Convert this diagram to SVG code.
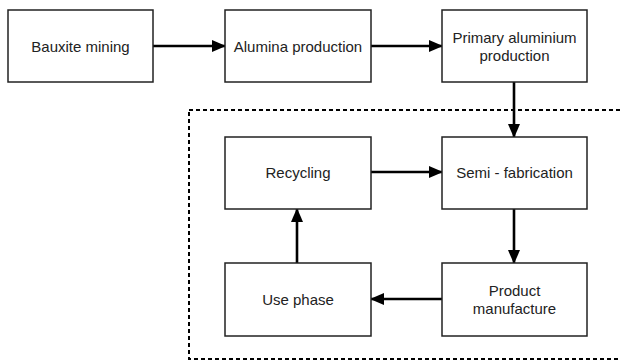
<svg xmlns="http://www.w3.org/2000/svg" width="621" height="364" viewBox="0 0 621 364">
<style>
.box{fill:#fff;stroke:#222;stroke-width:1.5}
.t{font-family:"Liberation Sans",Arial,sans-serif;font-size:15px;fill:#222;text-anchor:middle;dominant-baseline:central}
.c{stroke:#000;stroke-width:2.6;fill:none;marker-end:url(#ah)}
</style>
<defs>
<marker id="ah" markerUnits="userSpaceOnUse" markerWidth="14" markerHeight="12" refX="13" refY="6" orient="auto">
<path d="M0,0 L14,6 L0,12 Z" fill="#000"/>
</marker>
</defs>
<rect width="621" height="364" fill="#fff"/>
<rect x="189" y="110" width="440" height="249" fill="none" stroke="#000" stroke-width="2" stroke-dasharray="4,3"/>
<g id="connectors">
<line class="c" x1="153" y1="46" x2="225" y2="46"/>
<line class="c" x1="371" y1="46" x2="442" y2="46"/>
<line class="c" x1="514" y1="82" x2="514" y2="137"/>
<line class="c" x1="371" y1="172" x2="442" y2="172"/>
<line class="c" x1="514" y1="209" x2="514" y2="263"/>
<line class="c" x1="442" y1="299" x2="371" y2="299"/>
<line class="c" x1="297" y1="263" x2="297" y2="209"/>
</g>
<g id="bauxite"><rect class="box" x="8" y="10" width="145" height="72"/><text class="t" x="80.5" y="46">Bauxite mining</text></g>
<g id="alumina"><rect class="box" x="225" y="10" width="146" height="72"/><text class="t" x="298" y="46">Alumina production</text></g>
<g id="primary"><rect class="box" x="442" y="10" width="145" height="72"/><text class="t" x="514.5" y="37">Primary aluminium</text><text class="t" x="514.5" y="55">production</text></g>
<g id="recycling"><rect class="box" x="225" y="137" width="146" height="72"/><text class="t" x="298" y="172">Recycling</text></g>
<g id="semifab"><rect class="box" x="442" y="137" width="145" height="72"/><text class="t" x="514.5" y="172">Semi - fabrication</text></g>
<g id="usephase"><rect class="box" x="225" y="263" width="146" height="73"/><text class="t" x="298" y="299">Use phase</text></g>
<g id="product"><rect class="box" x="442" y="263" width="145" height="73"/><text class="t" x="514.5" y="290">Product</text><text class="t" x="514.5" y="308">manufacture</text></g>
</svg>
